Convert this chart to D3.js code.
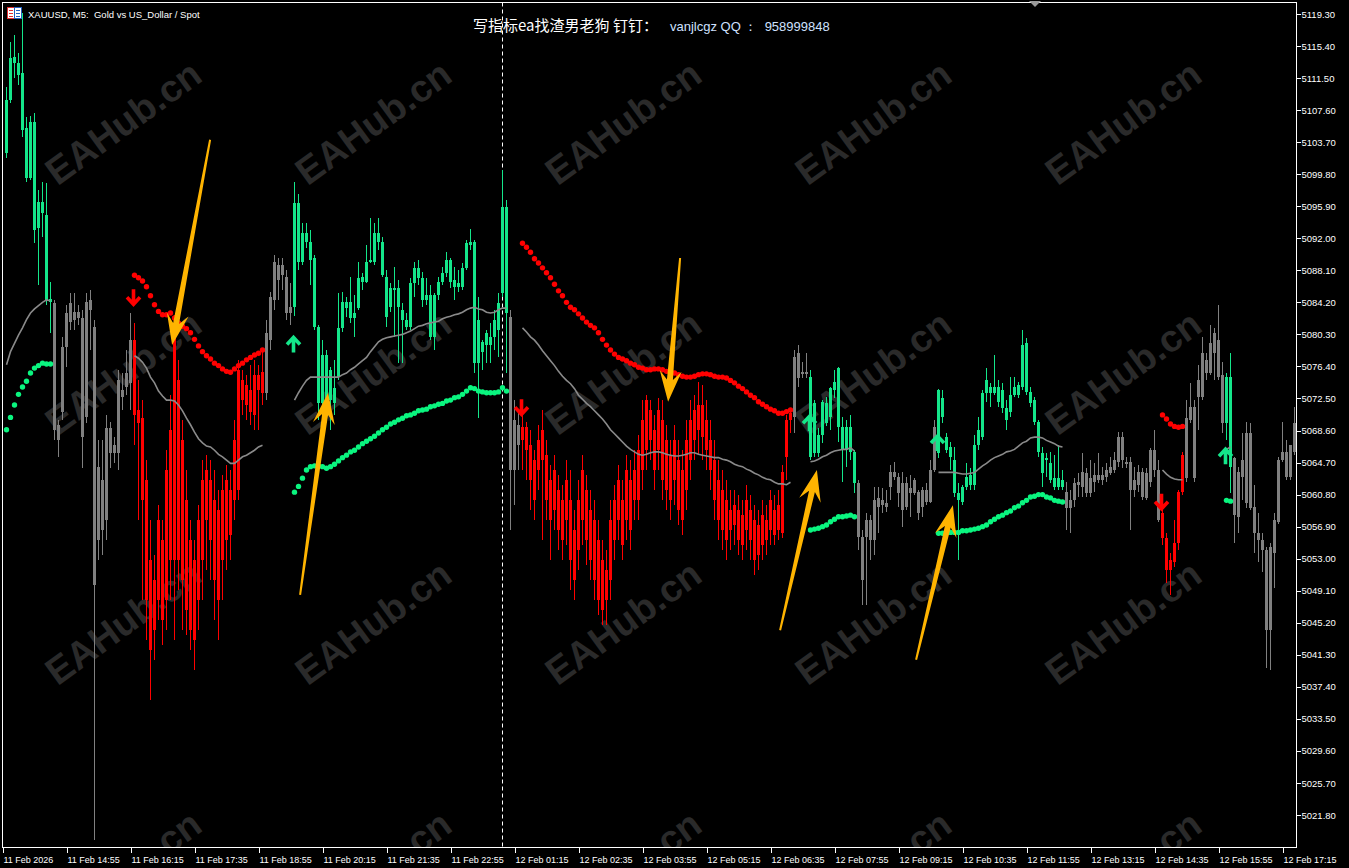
<!DOCTYPE html>
<html><head><meta charset="utf-8">
<script src="https://cdn.jsdelivr.net/npm/d3@7"></script>
<style>html,body{margin:0;padding:0;background:#000;overflow:hidden}</style>
</head><body><svg id="chart" width="1349" height="868"></svg>
<script>
// ---------------- DATA (XAUUSD M5) ----------------
const openP = [
5102.4,5108.8,5113.3,5113.3,5112.1,5105.4,5099.3,5106.2,5093.2,5096.4,
5094.8,5084.6,5084.1,5067.4,5070.9,5078.8,5081.8,5083.0,5082.3,5082.3,
5070.2,5084.5,5081.2,5055.3,5062.6,5057.7,5068.9,5065.9,5065.9,5073.5,
5073.9,5074.4,5079.6,5071.1,5070.1,5062.6,5052.8,5044.3,5048.0,5055.3,
5048.0,5068.7,5052.8,5074.7,5067.4,5060.1,5044.3,5052.8,5048.0,5052.8,
5063.8,5062.6,5060.1,5048.0,5052.8,5062.6,5055.9,5060.1,5061.4,5074.7,
5071.7,5073.5,5070.5,5075.4,5073.2,5073.2,5079.6,5084.5,5088.7,5087.5,
5087.3,5082.9,5083.6,5096.3,5089.1,5092.6,5091.5,5089.6,5081.2,5071.9,
5077.8,5072.3,5073.8,5075.1,5081.1,5084.2,5082.3,5082.9,5083.5,5087.3,
5086.7,5089.1,5089.1,5092.6,5091.5,5087.3,5083.6,5085.9,5085.9,5083.3,
5082.1,5081.2,5086.6,5088.4,5087.2,5084.5,5085.1,5080.0,5085.1,5086.7,
5087.8,5089.4,5086.9,5086.1,5086.1,5088.4,5091.2,5091.5,5076.8,5079.4,
5079.0,5080.0,5080.0,5080.8,5085.3,5095.8,5082.4,5063.8,5069.3,5067.4,
5069.0,5066.8,5065.0,5063.8,5068.7,5065.6,5062.6,5058.9,5061.4,5055.3,
5057.7,5060.1,5056.5,5054.1,5057.7,5061.4,5058.9,5057.7,5055.3,5046.7,
5051.6,5050.4,5055.3,5057.7,5060.1,5057.7,5062.6,5060.1,5060.1,5063.8,
5066.2,5071.1,5068.7,5066.2,5069.9,5061.4,5065.6,5062.6,5065.0,5057.7,
5061.4,5065.0,5067.4,5071.7,5067.8,5069.9,5067.4,5065.0,5062.6,5056.5,
5060.1,5056.5,5059.5,5055.3,5058.3,5056.5,5058.9,5057.7,5053.4,5058.3,
5055.3,5056.5,5058.9,5056.5,5056.1,5065.4,5069.9,5070.2,5078.0,5075.5,
5075.7,5075.1,5065.9,5068.1,5068.1,5071.9,5070.2,5073.5,5076.2,5069.0,
5066.2,5069.0,5066.0,5062.2,5055.6,5055.6,5057.7,5055.3,5060.4,5059.5,
5059.8,5061.7,5063.5,5062.9,5058.9,5062.2,5061.0,5062.6,5061.1,5059.3,
5061.4,5059.9,5063.8,5065.9,5072.6,5067.8,5066.6,5065.0,5061.0,5059.9,
5061.7,5063.2,5062.0,5066.8,5067.8,5073.2,5073.9,5073.2,5073.9,5073.5,
5071.3,5070.9,5072.9,5072.9,5073.9,5079.2,5073.3,5072.3,5069.6,5065.9,
5065.0,5064.6,5062.8,5061.7,5062.6,5061.1,5059.2,5060.1,5062.0,5061.7,
5063.4,5061.0,5062.3,5063.2,5062.6,5062.9,5063.4,5063.8,5064.8,5067.8,
5064.8,5064.8,5061.4,5062.0,5063.5,5060.4,5062.3,5066.2,5063.8,5058.6,
5055.5,5051.6,5052.6,5054.9,5061.1,5062.8,5071.5,5062.8,5072.7,5072.7,
5077.2,5075.6,5078.0,5079.6,5075.4,5069.5,5075.1,5065.3,5058.1,5062.9,
5068.3,5059.2,5059.3,5056.1,5055.3,5054.1,5044.3,5053.7,5057.5,5065.0,
5066.0,5062.9,5066.0];
const highP = [
5110.4,5115.9,5116.7,5114.5,5119.4,5106.8,5106.9,5107.2,5097.9,5098.8,
5098.7,5086.7,5084.5,5069.9,5080.0,5083.9,5085.3,5085.3,5083.9,5083.3,
5085.3,5085.7,5082.1,5067.4,5067.4,5070.5,5069.6,5067.8,5076.0,5075.6,
5078.4,5082.9,5081.7,5074.7,5072.3,5065.0,5057.7,5053.4,5059.5,5057.7,
5066.2,5072.9,5082.7,5077.2,5069.9,5063.8,5057.7,5055.3,5059.5,5065.0,
5065.6,5065.0,5063.8,5061.4,5063.2,5064.4,5063.8,5069.9,5077.2,5076.0,
5075.4,5076.6,5077.2,5076.6,5078.4,5082.1,5085.5,5090.0,5089.6,5089.6,
5088.1,5086.6,5098.8,5097.4,5093.9,5093.9,5093.0,5090.0,5081.4,5079.6,
5078.4,5076.3,5077.2,5085.3,5085.5,5084.9,5087.3,5085.1,5089.1,5087.8,
5091.2,5094.5,5093.9,5094.5,5092.2,5088.1,5086.6,5088.5,5086.9,5084.1,
5082.9,5087.2,5089.1,5089.4,5087.9,5087.2,5086.3,5085.3,5087.3,5088.5,
5090.3,5089.6,5088.5,5088.1,5089.0,5091.8,5093.1,5091.8,5084.9,5079.6,
5080.8,5081.7,5083.3,5085.3,5100.3,5096.7,5083.3,5072.3,5071.1,5071.7,
5069.6,5068.7,5066.2,5069.3,5071.1,5067.4,5064.4,5065.6,5063.2,5062.0,
5065.0,5063.8,5058.9,5062.6,5065.6,5063.2,5061.4,5060.1,5057.7,5055.3,
5054.1,5060.1,5062.0,5064.4,5062.6,5065.6,5065.0,5066.2,5068.1,5072.3,
5072.9,5072.3,5070.5,5072.6,5072.3,5069.3,5067.4,5069.3,5067.4,5066.2,
5069.9,5072.3,5072.9,5074.5,5074.1,5072.3,5069.9,5067.4,5065.0,5063.8,
5062.6,5061.4,5061.4,5060.8,5060.1,5062.0,5060.8,5059.5,5058.9,5060.1,
5059.5,5061.4,5060.8,5061.4,5064.4,5070.5,5071.3,5078.4,5079.0,5076.9,
5078.0,5076.0,5072.3,5068.9,5072.3,5072.7,5073.9,5076.0,5076.3,5070.2,
5069.9,5070.5,5066.2,5062.6,5056.5,5058.6,5058.3,5061.7,5061.7,5061.6,
5061.4,5064.4,5064.8,5063.4,5063.5,5062.9,5063.2,5062.8,5061.4,5061.7,
5062.2,5065.0,5069.9,5073.7,5073.5,5068.3,5067.2,5066.6,5062.2,5062.0,
5064.6,5064.0,5068.1,5070.2,5073.5,5076.2,5074.4,5077.8,5074.7,5074.4,
5072.3,5075.1,5075.1,5074.5,5080.8,5079.9,5073.9,5072.7,5069.9,5066.6,
5065.9,5066.0,5065.6,5066.8,5063.8,5062.3,5061.4,5062.8,5063.4,5065.9,
5064.0,5065.0,5064.6,5065.9,5064.2,5064.6,5065.4,5066.0,5068.4,5068.4,
5065.4,5065.4,5064.2,5064.4,5064.0,5064.0,5066.5,5068.7,5065.0,5058.9,
5056.1,5053.7,5057.7,5061.4,5066.0,5072.3,5074.4,5072.3,5076.6,5080.0,
5078.0,5081.4,5081.1,5083.9,5076.9,5075.6,5078.0,5065.4,5064.2,5068.3,
5069.6,5069.5,5062.0,5058.6,5056.1,5054.4,5054.9,5058.6,5065.4,5069.6,
5067.4,5066.8,5071.5];
const lowP = [
5101.8,5108.5,5111.5,5110.7,5104.3,5098.8,5099.1,5091.4,5086.3,5092.2,
5083.9,5080.5,5067.4,5065.4,5069.9,5076.3,5080.8,5080.8,5081.4,5064.0,
5069.5,5078.4,5018.8,5052.8,5053.4,5055.3,5064.0,5064.6,5063.8,5071.1,
5072.9,5071.1,5066.8,5057.7,5048.0,5043.1,5035.8,5040.7,5045.5,5042.5,
5044.3,5048.0,5043.1,5049.2,5044.3,5043.7,5041.9,5039.4,5044.3,5048.0,
5051.6,5050.4,5045.5,5043.1,5048.0,5051.6,5052.8,5057.7,5060.1,5070.5,
5069.9,5069.3,5068.7,5068.7,5071.7,5072.3,5078.4,5083.3,5084.5,5085.7,
5082.1,5081.4,5082.5,5088.1,5088.7,5090.8,5086.3,5080.8,5069.9,5070.1,
5069.9,5068.7,5070.5,5074.7,5080.6,5082.4,5081.7,5080.0,5083.3,5085.7,
5086.6,5089.0,5088.7,5090.6,5087.3,5081.2,5083.0,5080.0,5076.8,5076.8,
5080.8,5080.8,5084.9,5086.3,5083.6,5083.9,5079.6,5078.4,5084.5,5086.3,
5087.3,5085.9,5084.5,5085.5,5085.7,5088.1,5090.6,5075.6,5070.1,5076.0,
5076.8,5076.8,5078.4,5077.5,5084.9,5075.6,5056.5,5059.5,5063.8,5063.8,
5062.6,5058.9,5057.7,5061.4,5055.3,5057.7,5052.8,5056.5,5054.1,5052.8,
5054.7,5049.2,5048.0,5051.6,5054.7,5052.2,5050.4,5048.0,5046.1,5044.9,
5044.9,5048.0,5052.8,5055.3,5052.8,5055.3,5054.1,5057.7,5057.7,5061.4,
5063.8,5065.0,5061.4,5063.8,5060.1,5058.9,5057.7,5059.5,5057.1,5055.9,
5058.9,5062.6,5065.0,5065.6,5065.0,5063.8,5061.4,5057.7,5055.3,5054.1,
5052.8,5054.1,5054.7,5053.4,5052.8,5054.1,5052.8,5051.0,5051.6,5052.8,
5053.4,5054.7,5054.7,5055.3,5055.5,5062.6,5068.3,5068.3,5073.9,5075.0,
5075.0,5065.0,5065.4,5065.4,5067.1,5069.1,5068.7,5072.6,5067.2,5062.3,
5064.2,5065.0,5061.0,5054.1,5047.4,5047.4,5052.8,5053.4,5056.1,5058.6,
5058.7,5060.1,5062.6,5059.3,5056.9,5058.9,5058.1,5060.8,5057.7,5058.1,
5059.5,5059.8,5063.5,5065.3,5069.5,5065.9,5063.8,5060.5,5052.8,5059.5,
5061.4,5061.4,5061.4,5066.2,5067.4,5072.1,5071.5,5072.9,5071.5,5070.7,
5068.7,5070.2,5072.7,5072.6,5073.5,5072.9,5071.5,5069.3,5065.4,5061.7,
5062.9,5062.2,5061.4,5061.4,5061.4,5056.5,5056.1,5059.3,5060.5,5060.5,
5060.5,5060.5,5061.1,5062.2,5062.0,5062.3,5063.2,5063.4,5064.2,5064.0,
5064.0,5056.5,5060.5,5061.1,5060.1,5060.1,5061.7,5062.9,5057.5,5054.7,
5050.0,5048.6,5052.0,5054.1,5060.8,5062.3,5069.5,5062.3,5068.7,5072.3,
5074.7,5075.4,5074.7,5074.7,5068.3,5067.4,5061.0,5054.9,5056.1,5060.1,
5059.2,5058.9,5053.7,5052.6,5051.4,5039.7,5039.4,5049.4,5057.2,5064.8,
5062.6,5062.6,5065.6];
const closeP = [
5108.8,5113.9,5114.1,5111.9,5105.2,5099.3,5106.2,5093.0,5096.4,5095.1,
5084.5,5084.2,5068.7,5069.3,5078.8,5082.9,5084.1,5082.1,5083.0,5067.8,
5084.2,5083.3,5049.8,5064.2,5056.5,5068.9,5065.9,5066.8,5074.7,5072.7,
5075.6,5079.6,5070.5,5069.5,5060.1,5048.0,5041.9,5050.4,5057.7,5045.5,
5063.8,5052.8,5080.2,5052.8,5050.4,5046.7,5055.3,5043.1,5057.7,5062.6,
5057.7,5055.3,5050.4,5058.9,5061.4,5055.3,5061.4,5067.4,5076.0,5072.3,
5074.1,5070.9,5075.4,5073.5,5075.7,5080.5,5084.9,5089.1,5086.9,5088.7,
5082.9,5083.6,5096.3,5089.1,5092.6,5091.5,5089.4,5081.2,5071.9,5077.8,
5072.3,5076.0,5071.9,5081.1,5084.2,5083.5,5084.2,5082.3,5087.2,5086.7,
5089.1,5089.4,5092.6,5091.5,5087.5,5082.4,5085.9,5085.7,5083.6,5082.1,
5081.2,5086.6,5088.4,5087.2,5084.5,5085.1,5080.0,5085.1,5086.7,5087.8,
5089.4,5086.7,5086.1,5086.6,5088.4,5091.4,5091.5,5076.8,5082.1,5078.2,
5080.5,5079.0,5082.1,5084.1,5095.8,5082.9,5063.8,5069.9,5066.8,5069.0,
5066.2,5062.6,5060.1,5067.4,5065.0,5060.1,5057.7,5063.8,5056.5,5060.1,
5062.6,5052.8,5050.4,5060.1,5063.8,5055.3,5052.8,5050.4,5048.0,5052.8,
5048.0,5057.7,5060.1,5062.6,5054.7,5063.8,5056.5,5063.8,5066.2,5069.9,
5072.3,5067.4,5063.8,5071.1,5062.6,5067.4,5060.1,5067.4,5058.9,5063.8,
5067.4,5069.9,5071.1,5068.7,5071.7,5066.2,5063.8,5060.1,5057.7,5061.4,
5055.3,5058.9,5057.1,5058.9,5054.7,5060.1,5055.3,5052.8,5057.1,5054.7,
5057.7,5060.1,5055.9,5059.5,5063.5,5069.9,5070.7,5077.5,5075.0,5075.7,
5075.5,5065.4,5071.9,5065.9,5072.1,5069.5,5073.8,5074.5,5069.0,5066.2,
5069.0,5066.0,5062.2,5055.6,5050.4,5057.7,5055.3,5060.1,5059.3,5060.1,
5059.3,5063.5,5062.9,5061.0,5062.2,5059.3,5061.6,5061.0,5058.6,5061.4,
5059.9,5063.8,5069.0,5073.5,5070.2,5066.2,5065.4,5061.0,5060.1,5061.7,
5062.9,5062.0,5066.8,5068.7,5073.2,5074.7,5073.2,5073.9,5072.1,5071.3,
5069.9,5072.9,5073.9,5074.1,5079.0,5073.3,5071.9,5069.6,5066.0,5063.4,
5065.3,5062.6,5061.7,5062.8,5061.7,5059.2,5060.1,5062.2,5062.3,5063.5,
5061.0,5062.8,5063.2,5062.6,5063.2,5063.8,5064.2,5065.0,5067.8,5065.0,
5064.5,5061.4,5062.6,5063.5,5060.5,5063.4,5066.2,5063.8,5057.7,5055.5,
5051.6,5052.8,5054.9,5061.1,5065.6,5070.1,5069.9,5071.5,5074.7,5078.0,
5075.6,5079.2,5080.5,5075.1,5069.5,5075.1,5064.2,5058.3,5063.5,5065.0,
5059.8,5068.3,5056.1,5055.3,5054.1,5044.3,5054.4,5057.7,5065.0,5066.0,
5062.9,5066.8,5069.5];

// trend segments of the indicator (start bar, direction, trailing-stop dots, signal line)
const segStart = [0, 32, 72, 129, 201, 233, 289, 305];
const segDir = ["up","down","up","down","up","up","down","up"];
const segArrow = [null, 5084.7, 5079.2, 5071.3, 5069.6, 5067.2, 5059.8, 5065.6];
const segStops = [
[5068.7,5070.2,5071.7,5073.0,5073.9,5074.6,5075.6,5076.2,5076.5,5076.8,5076.7,5076.7],
[5087.5,5087.2,5086.8,5086.1,5085.0,5083.9,5083.1,5082.7,5082.7,5082.9,5082.3,5081.7,5081.3,5081.0,5080.5,5079.7,5078.9,5078.2,5077.7,5077.3,5076.8,5076.5,5076.1,5075.8,5075.7,5076.1,5076.5,5076.8,5077.2,5077.5,5077.8,5078.0,5078.4],
[5061.1,5061.8,5062.8,5063.8,5064.2,5064.3,5064.3,5064.2,5064.0,5064.2,5064.5,5064.9,5065.3,5065.6,5066.0,5066.2,5066.6,5067.0,5067.3,5067.6,5067.9,5068.3,5068.7,5069.0,5069.4,5069.6,5069.9,5070.1,5070.4,5070.5,5070.7,5071.0,5071.1,5071.2,5071.5,5071.6,5071.8,5071.9,5072.2,5072.3,5072.6,5072.7,5073.0,5073.4,5073.8,5073.7,5073.4,5073.3,5073.2,5073.2,5073.2,5073.3,5073.8,5073.4],
[5091.4,5090.9,5090.3,5089.5,5089.0,5088.4,5087.8,5087.2,5086.4,5085.6,5085.0,5084.2,5083.6,5083.3,5082.8,5082.3,5081.8,5081.4,5081.1,5080.5,5079.7,5079.0,5078.4,5077.9,5077.5,5077.3,5077.1,5076.8,5076.6,5076.3,5076.2,5076.0,5076.0,5076.1,5076.1,5076.0,5075.8,5075.7,5075.6,5075.4,5075.2,5075.1,5075.1,5075.2,5075.4,5075.5,5075.5,5075.4,5075.2,5075.1,5075.1,5075.0,5074.7,5074.4,5074.0,5073.7,5073.3,5072.9,5072.6,5072.1,5071.8,5071.5,5071.2,5071.0,5070.7,5070.7,5070.9,5071.1],
[5056.5,5056.6,5056.7,5056.9,5057.1,5057.5,5057.8,5058.1,5058.1,5058.2,5058.3,5058.1],
[5056.1,5056.1,5056.2,5056.2,5056.2,5056.2,5056.4,5056.4,5056.5,5056.6,5056.7,5056.9,5057.1,5057.5,5057.8,5058.1,5058.3,5058.6,5058.8,5059.2,5059.4,5059.8,5060.1,5060.5,5060.6,5060.8,5060.8,5060.5,5060.4,5060.1,5060.0,5059.9],
[5070.5,5070.0,5069.4,5069.1,5069.0,5069.1],
[5060.1,5060.0]];
const segMA = [
[5076.6,5078.2,5079.2,5080.2,5081.1,5082.1,5082.9,5083.4,5083.8,5084.2,5084.5,5084.4],
[5077.7,5077.4,5076.9,5076.2,5075.1,5074.4,5073.4,5072.8,5072.3,5072.3,5072.2,5071.7,5071.0,5070.1,5069.3,5068.4,5067.6,5067.1,5066.7,5066.6,5066.2,5065.7,5065.4,5065.0,5064.6,5064.6,5065.0,5065.4,5065.6,5065.9,5066.2,5066.6,5066.8],
[5072.3,5073.2,5074.0,5074.7,5075.1,5075.1,5075.1,5075.1,5075.1,5075.1,5075.1,5075.1,5075.4,5075.6,5076.0,5076.3,5076.7,5077.1,5077.5,5078.2,5078.8,5079.4,5079.7,5079.9,5080.0,5080.1,5080.2,5080.3,5080.5,5080.7,5081.0,5081.3,5081.4,5081.6,5081.7,5081.8,5081.9,5082.2,5082.4,5082.5,5082.7,5082.8,5083.0,5083.3,5083.5,5083.6,5083.4,5083.3,5083.0,5082.9,5083.0,5083.3,5083.5,5083.5],
[5081.1,5080.6,5080.0,5079.6,5079.0,5078.3,5077.7,5077.1,5076.5,5075.8,5075.2,5074.7,5074.3,5073.7,5072.9,5072.4,5071.9,5071.5,5071.0,5070.5,5070.0,5069.4,5068.7,5068.2,5067.7,5067.2,5066.7,5066.3,5066.0,5065.7,5065.6,5065.7,5065.9,5066.0,5066.0,5065.9,5065.7,5065.6,5065.5,5065.5,5065.6,5065.7,5065.9,5065.9,5065.7,5065.6,5065.5,5065.4,5065.3,5065.3,5065.1,5065.0,5064.8,5064.5,5064.3,5064.2,5063.9,5063.7,5063.4,5063.2,5062.9,5062.7,5062.6,5062.3,5062.1,5062.1,5062.0,5062.3],
[5064.8,5064.9,5065.1,5065.4,5065.6,5065.9,5066.1,5066.2,5066.3,5066.3,5066.5,5066.1],
[5063.5,5063.5,5063.5,5063.5,5063.5,5063.4,5063.3,5063.3,5063.4,5063.5,5063.9,5064.3,5064.6,5065.0,5065.3,5065.5,5065.7,5066.0,5066.1,5066.3,5066.7,5067.1,5067.3,5067.7,5067.8,5067.8,5067.7,5067.4,5067.2,5067.0,5066.7,5066.6],
[5063.8,5063.3,5062.9,5062.7,5062.6,5062.6],
[5066.3,5066.6]];

// hand-drawn annotation arrows (bar index / price of tail and tip)
const annFromBar = [50.9, 73.4, 168.4, 193.4, 227.4];
const annFromPrice = [5104.0, 5048.6, 5089.6, 5044.3, 5040.7];
const annToBar = [41.4, 80.4, 165.4, 202.6, 236.6];
const annToPrice = [5079.0, 5073.2, 5072.1, 5063.8, 5059.5];

const priceTicks = [5119.3,5115.4,5111.5,5107.6,5103.7,5099.8,5095.9,5092.0,5088.1,5084.2,5080.3,5076.4,5072.5,5068.6,5064.7,5060.8,5056.9,5053.0,5049.1,5045.2,5041.3,5037.4,5033.5,5029.6,5025.7,5021.8];
const timeLabels = ["11 Feb 2026","11 Feb 14:55","11 Feb 16:15","11 Feb 17:35","11 Feb 18:55","11 Feb 20:15","11 Feb 21:35","11 Feb 22:55","12 Feb 01:15","12 Feb 02:35","12 Feb 03:55","12 Feb 05:15","12 Feb 06:35","12 Feb 07:55","12 Feb 09:15","12 Feb 10:35","12 Feb 11:55","12 Feb 13:15","12 Feb 14:35","12 Feb 15:55","12 Feb 17:15"];
const timeLabelBars = timeLabels.map((_, k) => 16 * k - 1);
const daySeparatorBar = 124;

// ---------------- STYLE ----------------
const GREEN = "#14e68a", GREEN_DOT = "#0af57f", RED = "#ff0000", GRAY = "#808080";
const W = 1349, H = 868, L = 2.5, T = 2.5, R = 1296.5, B = 847.5;

const svg = d3.select("#chart");
svg.append("rect").attr("width", W).attr("height", H).attr("fill", "#000");

const n = openP.length;
const x = d3.scaleLinear().domain([-1, 322]).range([2.5, 1294.5]);
const y = d3.scaleLinear().domain([5021.8, 5119.3]).range([815, 14]);

const trend = new Array(n).fill(0);
segStart.forEach((s, k) => segStops[k].forEach((v, j) => { trend[s + j] = segDir[k] === "up" ? 1 : -1; }));
const colorOf = t => t === 1 ? GREEN : t === -1 ? RED : GRAY;

svg.append("defs").append("clipPath").attr("id", "plot")
  .append("rect").attr("x", L).attr("y", T).attr("width", R - L).attr("height", B - T);
const plot = svg.append("g").attr("clip-path", "url(#plot)");

// watermark (top three rows fully inside; the fourth row is cut by the time axis, as in the source)
const wm = plot.append("g");
for (let r = 0; r < 4; r++) for (let c = 0; c < 5; c++) {
  wm.append("text").attr("transform", `translate(${125 + 250 * c},${125 + 250 * r}) rotate(-36)`)
    .attr("text-anchor", "middle").attr("dominant-baseline", "middle")
    .attr("font-family", "Liberation Sans, Arial, sans-serif").attr("font-weight", "bold")
    .attr("font-size", 38).attr("fill", "#2a2a2a").text("EAHub.cn");
}

// day separator
plot.append("line").attr("x1", x(daySeparatorBar)).attr("x2", x(daySeparatorBar))
  .attr("y1", T).attr("y2", B).attr("stroke", "#fff").attr("stroke-width", 1)
  .attr("stroke-dasharray", "4,3");

// candles
const idx = d3.range(n);
const cg = plot.append("g").attr("shape-rendering", "crispEdges");
cg.selectAll("line.w").data(idx).join("line").attr("class", "w")
  .attr("x1", i => x(i)).attr("x2", i => x(i))
  .attr("y1", i => y(highP[i])).attr("y2", i => y(lowP[i]))
  .attr("stroke", i => colorOf(trend[i])).attr("stroke-width", 1);
cg.selectAll("rect.b").data(idx).join("rect").attr("class", "b")
  .attr("x", i => x(i) - 1.5).attr("width", 3)
  .attr("y", i => y(Math.max(openP[i], closeP[i])))
  .attr("height", i => Math.max(1, y(Math.min(openP[i], closeP[i])) - y(Math.max(openP[i], closeP[i]))))
  .attr("fill", i => colorOf(trend[i]));

// signal line (grey) per segment
const maLine = d3.line().x(d => x(d[0])).y(d => y(d[1]));
segStart.forEach((s, k) => {
  plot.append("path").datum(segMA[k].map((v, j) => [s + j, v]))
    .attr("d", maLine).attr("fill", "none").attr("stroke", "#8a8a8a").attr("stroke-width", 1.6);
});

// trailing-stop dots
segStart.forEach((s, k) => {
  plot.append("g").selectAll("circle").data(segStops[k]).join("circle")
    .attr("cx", (v, j) => x(s + j)).attr("cy", v => y(v)).attr("r", 2.7)
    .attr("fill", segDir[k] === "up" ? GREEN_DOT : RED);
});

// signal arrows
segStart.forEach((s, k) => {
  if (segArrow[k] == null) return;
  const up = segDir[k] === "up";
  const d = up ? "M-6.5,1 L0,-6 L6.5,1 M0,-6 L0,9" : "M-6.5,-1 L0,6 L6.5,-1 M0,6 L0,-9";
  plot.append("path").attr("transform", `translate(${x(s) - 1},${y(segArrow[k])})`)
    .attr("d", d).attr("fill", "none").attr("stroke", up ? GREEN : RED)
    .attr("stroke-width", 3.6).attr("stroke-linejoin", "miter");
});

// annotation arrows
annFromBar.forEach((fb, k) => {
  const x0 = x(fb), y0 = y(annFromPrice[k]), x1 = x(annToBar[k]), y1 = y(annToPrice[k]);
  const dx = x1 - x0, dy = y1 - y0, len = Math.hypot(dx, dy);
  const ux = dx / len, uy = dy / len, nx = -uy, ny = ux;
  const neck = [x1 - ux * 22, y1 - uy * 22], wing = [x1 - ux * 31, y1 - uy * 31];
  const pts = [
    [x0 + nx * 1, y0 + ny * 1], [neck[0] + nx * 3, neck[1] + ny * 3],
    [wing[0] + nx * 11, wing[1] + ny * 11], [x1, y1],
    [wing[0] - nx * 11, wing[1] - ny * 11], [neck[0] - nx * 3, neck[1] - ny * 3],
    [x0 - nx * 1, y0 - ny * 1]];
  plot.append("polygon").attr("points", pts.map(p => p.join(",")).join(" ")).attr("fill", "#ffb400");
});

// frame
svg.append("rect").attr("x", L).attr("y", T).attr("width", R - L).attr("height", B - T)
  .attr("fill", "none").attr("stroke", "#fff").attr("stroke-width", 1).attr("shape-rendering", "crispEdges");

// price axis
const ya = svg.append("g").attr("transform", `translate(${R},0)`)
  .call(d3.axisRight(y).tickValues(priceTicks).tickSize(4).tickPadding(1).tickFormat(d => d.toFixed(2)));
ya.select(".domain").remove();
ya.selectAll("line").attr("stroke", "#fff").attr("shape-rendering", "crispEdges");
ya.selectAll("text").attr("fill", "#fff").attr("font-family", "Liberation Sans, Arial, sans-serif").attr("font-size", 9.5);

// time axis
const xa = svg.append("g").attr("transform", `translate(0,${B})`)
  .call(d3.axisBottom(x).tickValues(timeLabelBars).tickSize(5).tickPadding(4).tickFormat((d, k) => timeLabels[k]));
xa.select(".domain").remove();
xa.selectAll("line").attr("stroke", "#fff").attr("shape-rendering", "crispEdges");
xa.selectAll("text").attr("fill", "#fff").attr("text-anchor", "start").attr("dx", 0.5)
  .attr("font-family", "Liberation Sans, Arial, sans-serif").attr("font-size", 9);

// header
const icon = svg.append("g").attr("shape-rendering", "crispEdges");
icon.append("rect").attr("x", 7.5).attr("y", 7.5).attr("width", 7).attr("height", 11).attr("fill", "#fff").attr("stroke", "#e03030");
icon.append("rect").attr("x", 14.5).attr("y", 7.5).attr("width", 7).attr("height", 11).attr("fill", "#fff").attr("stroke", "#2060c0");
[10, 13, 16].forEach(v => {
  icon.append("line").attr("x1", 9).attr("x2", 13).attr("y1", v).attr("y2", v).attr("stroke", "#e03030");
  icon.append("line").attr("x1", 16).attr("x2", 20).attr("y1", v).attr("y2", v).attr("stroke", "#2060c0");
});
svg.append("text").attr("x", 28).attr("y", 17.5).attr("fill", "#fff").style("white-space", "pre")
  .attr("font-family", "Liberation Sans, Arial, sans-serif").attr("font-size", 9.5)
  .text("XAUUSD, M5:  Gold vs US_Dollar / Spot");
svg.append("text").attr("x", 473).attr("y", 31).attr("fill", "#fff")
  .attr("font-family", "Noto Sans CJK SC, sans-serif").attr("font-size", 15)
  .text("写指标ea找渣男老狗 钉钉：");
svg.append("text").attr("x", 670).attr("y", 31).attr("fill", "#cfe0ff").style("white-space", "pre")
  .attr("font-family", "Liberation Sans, Arial, sans-serif").attr("font-size", 13)
  .text("vanjlcgz QQ ：  958999848");
svg.append("path").attr("d", "M1029,1 L1041,1 L1035,7 Z").attr("fill", "#9a9a9a");
</script></body></html>
